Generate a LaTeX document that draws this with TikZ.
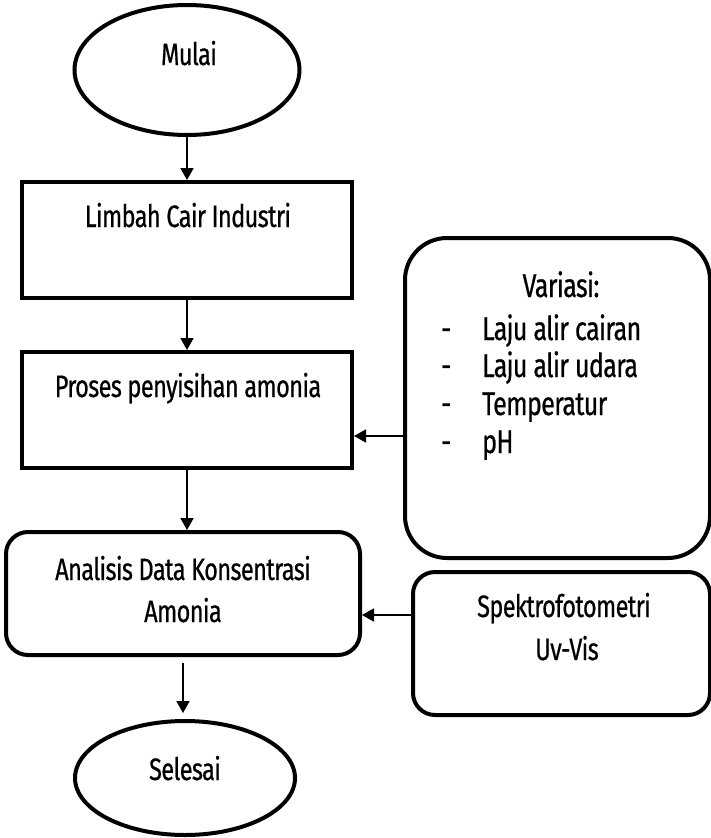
\documentclass[tikz,border=0pt]{standalone}
\usepackage{fontspec}
\setmainfont[FakeStretch=0.76,FakeBold=0.6,LetterSpace=-2]{Fira Sans}
\usetikzlibrary{shapes.geometric,arrows.meta}
\newcommand{\fsbase}{\fontsize{31}{43}\selectfont}
\newcommand{\fslist}{\fontsize{33}{38}\selectfont}
\begin{document}
\begin{tikzpicture}[x=1pt,y=-1pt,
  thickline/.style={draw,line width=4pt,inner sep=0pt},
  ovalbox/.style={thickline,ellipse},
  rectbox/.style={thickline,rectangle},
  roundbox/.style={thickline,rectangle,rounded corners=#1},
  lbl/.style={anchor=base,font=\fsbase,inner sep=0pt},
  lst/.style={anchor=base west,font=\fslist,inner sep=0pt},
  arr/.style={line width=1.8pt,-{Triangle[length=12pt,width=13pt]}}
]
\useasboundingbox (0,0) rectangle (711,838);

% shapes
\node[ovalbox,minimum width=225,minimum height=130] (mulai) at (187,70) {};
\node[rectbox,minimum width=330,minimum height=116] (limbah) at (187,240) {};
\node[rectbox,minimum width=330,minimum height=116] (proses) at (187,410) {};
\node[roundbox=22pt,minimum width=354,minimum height=123] (analisis) at (183,593.5) {};
\node[ovalbox,minimum width=220,minimum height=114] (selesai) at (185,778) {};
\node[roundbox=42pt,minimum width=305,minimum height=320] (variasi) at (557.5,398) {};
\node[roundbox=22pt,minimum width=297,minimum height=143] (spektro) at (561.5,643.5) {};

% texts
\node[lbl] (tmulai) at (189,65) {Mulai};
\node[lbl] (tlimbah) at (188,227) {Limbah Cair Industri};
\node[lbl] (tproses) at (188,397) {Proses penyisihan amonia};
\node[lbl] (tanal1) at (183,580) {Analisis Data Konsentrasi};
\node[lbl] (tanal2) at (183,622) {Amonia};
\node[lbl] (tselesai) at (185,780) {Selesai};
\node[lbl] (tspek1) at (564,617) {Spektrofotometri};
\node[lbl] (tspek2) at (567,660) {Uv-Vis};
\node[lbl,font=\fslist] (tvar) at (561,297) {Variasi:};
\node[lst] (d1) at (441,340) {-};
\node[lst] (d2) at (441,377) {-};
\node[lst] (d3) at (441,415) {-};
\node[lst] (d4) at (441,453) {-};
\node[lst] (v1) at (482,340) {Laju alir cairan};
\node[lst] (v2) at (482,377) {Laju alir udara};
\node[lst] (v3) at (482,415) {Temperatur};
\node[lst] (v4) at (482,453) {pH};

% connectors
\coordinate (va) at (variasi.west |- 0,436);
\coordinate (sa) at (spektro.west |- 0,615);
\draw[arr] (mulai.south) -- (limbah.north);
\draw[arr] (limbah.south) -- (proses.north);
\draw[arr] (proses.south) -- (proses.south |- analisis.north);
\draw[arr,shorten <=6pt,shorten >=6pt] (analisis.south) -- (analisis.south |- selesai.north);
\draw[arr] (va) -- (va -| proses.east);
\draw[arr] (sa) -- (sa -| analisis.east);
\end{tikzpicture}
\end{document}
